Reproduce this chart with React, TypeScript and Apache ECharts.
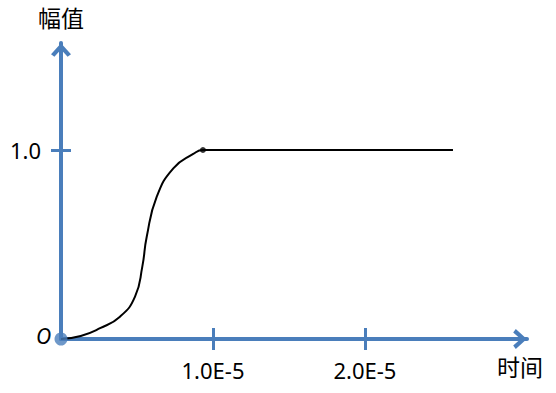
import React, { useEffect, useRef } from "react";
import * as echarts from "echarts";

// x values in units of 1E-5 (time), y values are amplitude
const curveX = [0, 0.13, 0.257, 0.388, 0.487, 0.535, 0.564, 0.63, 0.739, 0.87, 0.934, 2.579];
const curveY = [0, 0.016, 0.057, 0.118, 0.224, 0.383, 0.541, 0.753, 0.903, 0.979, 1.0, 1.0];
const endPoint = [0.934, 1.0];
const xTicks = [1, 2];
const xTickLabels = ["1.0E-5", "2.0E-5"];
const yTicks = [1];
const yTickLabels = ["1.0"];
const originLabel = "O";
const yName = "幅值";
const xName = "时间";

const BLUE = "#4a7ebb";
const FONT = "'Noto Sans', 'Noto Sans CJK SC', sans-serif";
const CHEVRON = "path://M10,0 L20,11 L16.6,13.6 L10,6.2 L3.4,13.6 L0,11 Z";

export default function App() {
  const ref = useRef<HTMLDivElement>(null);
  useEffect(() => {
    if (!ref.current) return;
    const chart = echarts.init(ref.current, null, { renderer: "svg" });
    const xMin = 0, xMax = 3.066, yMin = 0, yMax = 1.566;
    const baseX = { type: "value" as const, min: xMin, max: xMax, splitLine: { show: false } };
    const baseY = { type: "value" as const, min: yMin, max: yMax, splitLine: { show: false } };
    const arrowLine = {
      show: true,
      symbol: ["none", CHEVRON],
      symbolSize: [20, 16],
      symbolOffset: [0, -7],
      lineStyle: { color: BLUE, width: 4 },
    };
    chart.setOption({
      animation: false,
      grid: { left: 61, right: 29, top: 43, bottom: 54 },
      xAxis: [
        {
          ...baseX,
          axisLine: arrowLine,
          axisTick: { show: true, customValues: xTicks, length: 11, inside: false, lineStyle: { color: BLUE, width: 3 } },
          axisLabel: {
            show: true,
            customValues: xTicks,
            margin: 20,
            color: "#000",
            fontSize: 22,
            fontFamily: FONT,
            formatter: (v: number) => {
              const i = xTicks.findIndex((t) => Math.abs(t - v) < 1e-9);
              return i >= 0 ? xTickLabels[i] : "";
            },
          },
        },
        {
          ...baseX,
          position: "bottom",
          axisLine: { show: false },
          axisTick: { show: true, customValues: xTicks, length: 11, inside: true, lineStyle: { color: BLUE, width: 3 } },
          axisLabel: { show: false },
        },
      ],
      yAxis: [
        {
          ...baseY,
          name: yName,
          nameLocation: "end",
          nameGap: 14,
          nameTextStyle: { color: "#000", fontSize: 23, fontFamily: FONT, align: "center" },
          axisLine: arrowLine,
          axisTick: { show: true, customValues: yTicks, length: 10, inside: false, lineStyle: { color: BLUE, width: 3 } },
          axisLabel: {
            show: true,
            customValues: yTicks,
            margin: 20,
            color: "#000",
            fontSize: 22,
            fontFamily: FONT,
            formatter: (v: number) => {
              const i = yTicks.findIndex((t) => Math.abs(t - v) < 1e-9);
              return i >= 0 ? yTickLabels[i] : "";
            },
          },
        },
        {
          ...baseY,
          position: "left",
          axisLine: { show: false },
          axisTick: { show: true, customValues: yTicks, length: 10, inside: true, lineStyle: { color: BLUE, width: 3 } },
          axisLabel: { show: false },
        },
      ],
      series: [
        {
          type: "line",
          xAxisIndex: 0,
          yAxisIndex: 0,
          data: curveX.map((x, i) => [x, curveY[i]]),
          smooth: 0.5,
          showSymbol: false,
          lineStyle: { color: "#000", width: 2 },
          z: 3,
        },
        {
          type: "scatter",
          data: [endPoint],
          symbolSize: 6,
          itemStyle: { color: "#000" },
          z: 4,
        },
        {
          type: "scatter",
          data: [[0, 0]],
          symbolSize: 13,
          itemStyle: { color: BLUE },
          z: 5,
        },
      ],
      graphic: [
        {
          type: "text",
          left: 36,
          top: 325,
          style: { text: originLabel, fontSize: 21, fontStyle: "italic", fontFamily: FONT, fill: "#000" },
        },
        {
          type: "text",
          left: 497,
          top: 355,
          style: { text: xName, fontSize: 23, fontFamily: FONT, fill: "#000" },
        },
      ],
    });
    return () => chart.dispose();
  }, []);
  return (
    <div
      ref={ref}
      style={{ position: "fixed", left: 0, top: 0, width: 556, height: 393, background: "#fff" }}
    />
  );
}
